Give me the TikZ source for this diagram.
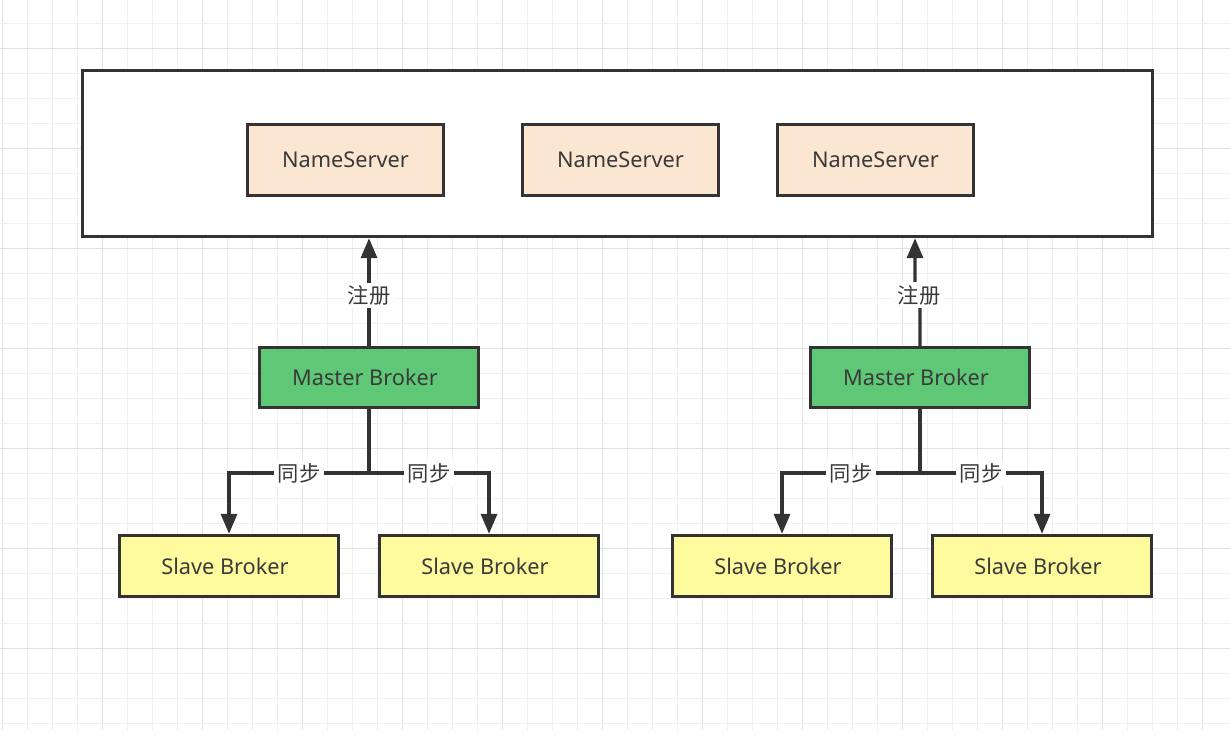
\documentclass[tikz,border=0pt]{standalone}
\usepackage{fontspec}
\setmainfont{Noto Sans}
\newfontfamily\cjk{Noto Sans CJK SC}
\usetikzlibrary{arrows.meta}
\definecolor{ink}{HTML}{333333}
\definecolor{txt}{HTML}{3A3A3A}
\definecolor{nsfill}{HTML}{FAE6D1}
\definecolor{mfill}{HTML}{5FC877}
\definecolor{sfill}{HTML}{FEFB9F}
\definecolor{gridminor}{HTML}{F0F0F0}
\definecolor{gridmajor}{HTML}{E2E2E2}
\begin{document}
\begin{tikzpicture}[x=0.75pt,y=-0.75pt,
  box/.style={draw=ink, line width=2.5pt, text=txt, inner sep=0pt,
    font=\fontsize{16.3pt}{19pt}\selectfont},
  nsbox/.style={box, fill=nsfill, minimum width=147pt, minimum height=53.25pt},
  mbox/.style={box, fill=mfill, minimum width=164.25pt, minimum height=45pt},
  sbox/.style={box, fill=sfill, minimum width=164.25pt, minimum height=45.75pt},
  outerbox/.style={draw=ink, line width=2.5pt, fill=white, minimum width=802.5pt, minimum height=124.5pt},
  conn/.style={draw=ink, line width=2.5pt},
  arr/.style={conn, -{Triangle[length=15pt,width=12pt]}},
  lbl/.style={fill=white, text=txt, inner xsep=2.5pt, inner ysep=2pt,
    font=\cjk\fontsize{16pt}{19pt}\selectfont},
  minorline/.style={draw=gridminor, line width=0.9pt},
  majorline/.style={draw=gridmajor, line width=0.9pt}
]
\useasboundingbox[fill=white] (0,0) rectangle (1230,750);
% grid
\foreach \k in {0,...,48}{
  \pgfmathsetmacro{\gx}{2.7+25*\k}
  \pgfmathtruncatemacro{\m}{mod(\k,4)}
  \ifnum\m=0 \draw[majorline] (\gx,0) -- (\gx,730); \else \draw[minorline] (\gx,0) -- (\gx,730); \fi
}
\foreach \k in {0,...,28}{
  \pgfmathsetmacro{\gy}{23.3+25*\k}
  \pgfmathtruncatemacro{\m}{mod(\k+3,4)}
  \ifnum\m=0 \draw[majorline] (0,\gy) -- (1230,\gy); \else \draw[minorline] (0,\gy) -- (1230,\gy); \fi
}
% boxes
\node[outerbox] (outer) at (617.5,153.5) {};
\node[nsbox] (ns1) at (345.5,160) {NameServer};
\node[nsbox] (ns2) at (620.5,160) {NameServer};
\node[nsbox] (ns3) at (875.5,160) {NameServer};
\node[mbox] (m1) at (369,377.5) {Master Broker\hspace*{6pt}};
\node[mbox] (m2) at (920,377.5) {Master Broker\hspace*{6pt}};
\node[sbox] (s1) at (229,566) {Slave Broker\hspace*{6pt}};
\node[sbox] (s2) at (489,566) {Slave Broker\hspace*{6pt}};
\node[sbox] (s3) at (782,566) {Slave Broker\hspace*{6pt}};
\node[sbox] (s4) at (1042,566) {Slave Broker\hspace*{6pt}};
% register arrows
\draw[arr] (m1.north) -- (m1.north |- outer.south) node[lbl, pos=0.47] (reg1) {注册};
\coordinate (k1) at (920,300);
\coordinate (k2) at (915,290);
\draw[arr] (m2.north) -- (k1) -- (k2) -- (k2 |- outer.south);
\node[lbl] (reg2) at (919,295) {注册};
% sync arrows
\coordinate (j1) at (369,473);
\coordinate (j2) at (920,473);
\draw[conn] (m1.south) -- (j1);
\draw[conn] (m2.south) -- (j2);
\draw[arr] (j1) -| (s1.north) node[lbl, pos=0.25] (sy1) {同步};
\draw[arr] (j1) -| (s2.north) node[lbl, pos=0.25] (sy2) {同步};
\draw[arr] (j2) -| (s3.north) node[lbl, pos=0.25] (sy3) {同步};
\draw[arr] (j2) -| (s4.north) node[lbl, pos=0.25] (sy4) {同步};
\end{tikzpicture}
\end{document}
